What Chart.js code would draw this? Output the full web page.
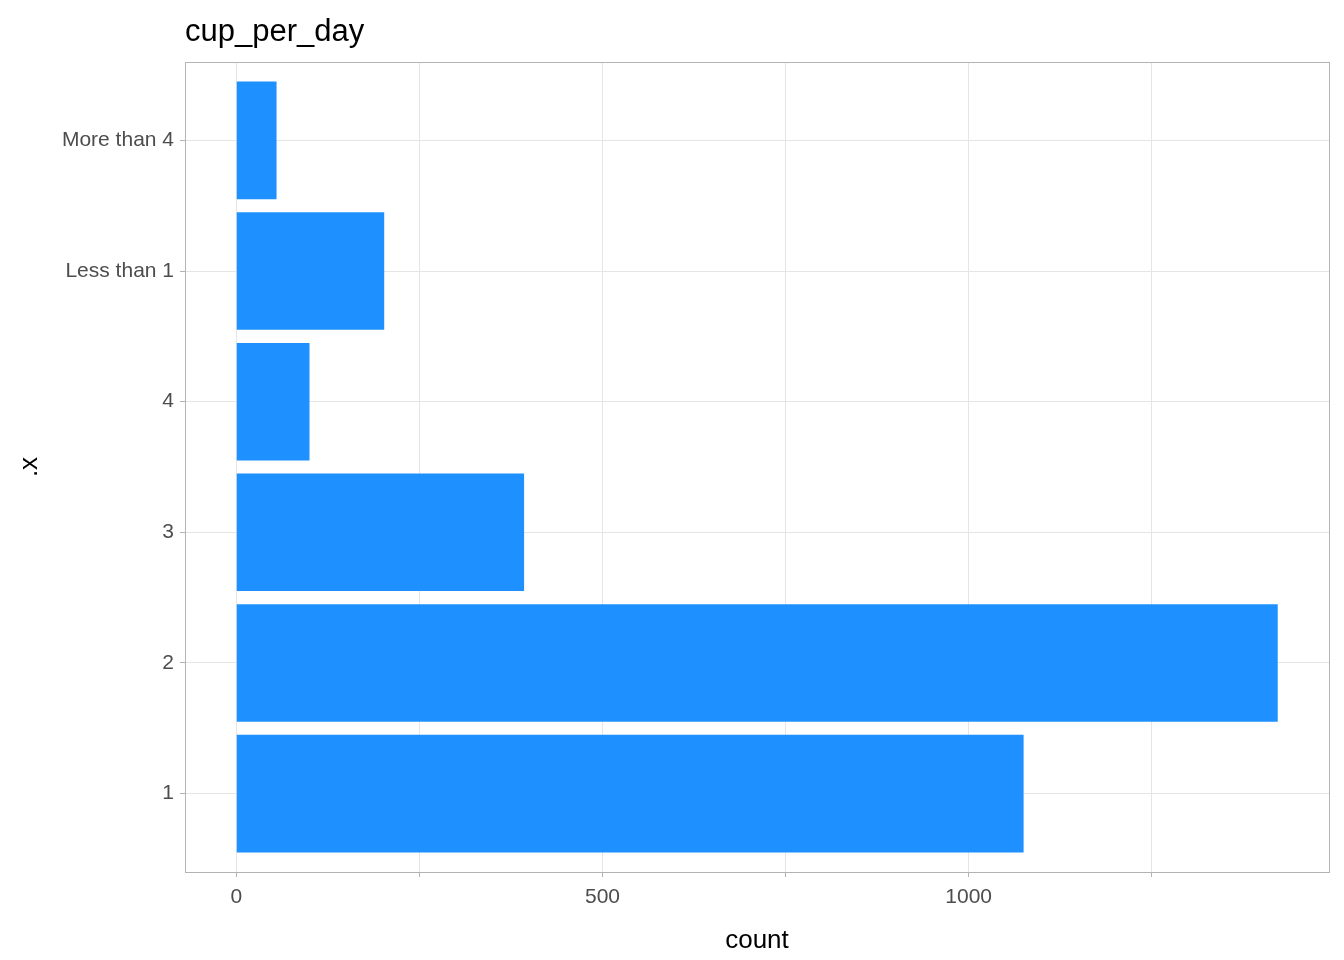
<!DOCTYPE html>
<html>
<head>
<meta charset="utf-8">
<script src="https://cdn.jsdelivr.net/npm/chart.js@4/dist/chart.umd.min.js"></script>
<style>
  body { margin: 0; background: #fff; }
  #wrap { width: 1344px; height: 960px; }
</style>
</head>
<body>
<div id="wrap"><canvas id="myChart"></canvas></div>
<script>
const categories = ["1", "2", "3", "4", "Less than 1", "More than 4"];
const counts = [1075, 1422, 393, 100, 202, 55];
const xTicks = [0, 250, 500, 750, 1000, 1250];

const points = counts.map((c, i) => ({ x: c, y: i + 1 }));

// panel border + title at panel left edge
const panelPlugin = {
  id: "panel",
  afterDraw(chart) {
    const { ctx, chartArea: a } = chart;
    ctx.save();
    ctx.strokeStyle = "#b3b3b3";
    ctx.lineWidth = 1;
    ctx.strokeRect(a.left + 0.5, a.top + 0.5, a.right - a.left, a.bottom - a.top);
    ctx.fillStyle = "#000";
    ctx.font = "31px 'Liberation Sans', Arial, sans-serif";
    ctx.textBaseline = "alphabetic";
    ctx.fillText("cup_per_day", a.left, 41);
    ctx.restore();
  },
};

const canvasCtx = document.getElementById("myChart").getContext("2d");

new Chart(canvasCtx, {
  type: "bar",
  data: {
    datasets: [{
      data: points,
      backgroundColor: "#1e90ff",
      borderWidth: 0,
      barPercentage: 0.9,
      categoryPercentage: 1,
    }],
  },
  options: {
    indexAxis: "y",
    responsive: true,
    maintainAspectRatio: false,
    animation: false,
    layout: { padding: { top: 62, right: 15, left: 0, bottom: 0 } },
    plugins: { legend: { display: false }, tooltip: { enabled: false } },
    scales: {
      x: {
        type: "linear",
        min: -70,
        max: 1492,
        afterBuildTicks: (s) => { s.ticks = xTicks.map((v) => ({ value: v })); },
        afterFit: (s) => { s.height = 88; },
        ticks: {
          color: "#4d4d4d",
          font: { size: 21, family: "'Liberation Sans', Arial, sans-serif" },
          callback: (v) => (v % 500 === 0 ? v : ""),
          maxRotation: 0,
          padding: 8,
        },
        grid: { color: "#e5e5e5", tickColor: "#b3b3b3", tickLength: 5 },
        border: { display: false },
        title: {
          display: true,
          text: "count",
          color: "#000",
          font: { size: 26, family: "'Liberation Sans', Arial, sans-serif" },
          padding: { top: 0 },
        },
      },
      y: {
        type: "linear",
        min: 0.4,
        max: 6.6,
        offset: false,
        afterBuildTicks: (s) => { s.ticks = categories.map((c, i) => ({ value: i + 1 })); },
        afterFit: (s) => { s.width = 185; },
        ticks: {
          color: "#4d4d4d",
          font: { size: 21, family: "'Liberation Sans', Arial, sans-serif" },
          callback: (v) => categories[v - 1],
          padding: 6,
        },
        grid: { color: "#e5e5e5", tickColor: "#b3b3b3", tickLength: 5, offset: false },
        border: { display: false },
        title: {
          display: true,
          text: ".x",
          color: "#000",
          font: { size: 26, family: "'Liberation Sans', Arial, sans-serif" },
          padding: { top: 14, bottom: 0 },
        },
      },
    },
  },
  plugins: [panelPlugin],
});
</script>
</body>
</html>
